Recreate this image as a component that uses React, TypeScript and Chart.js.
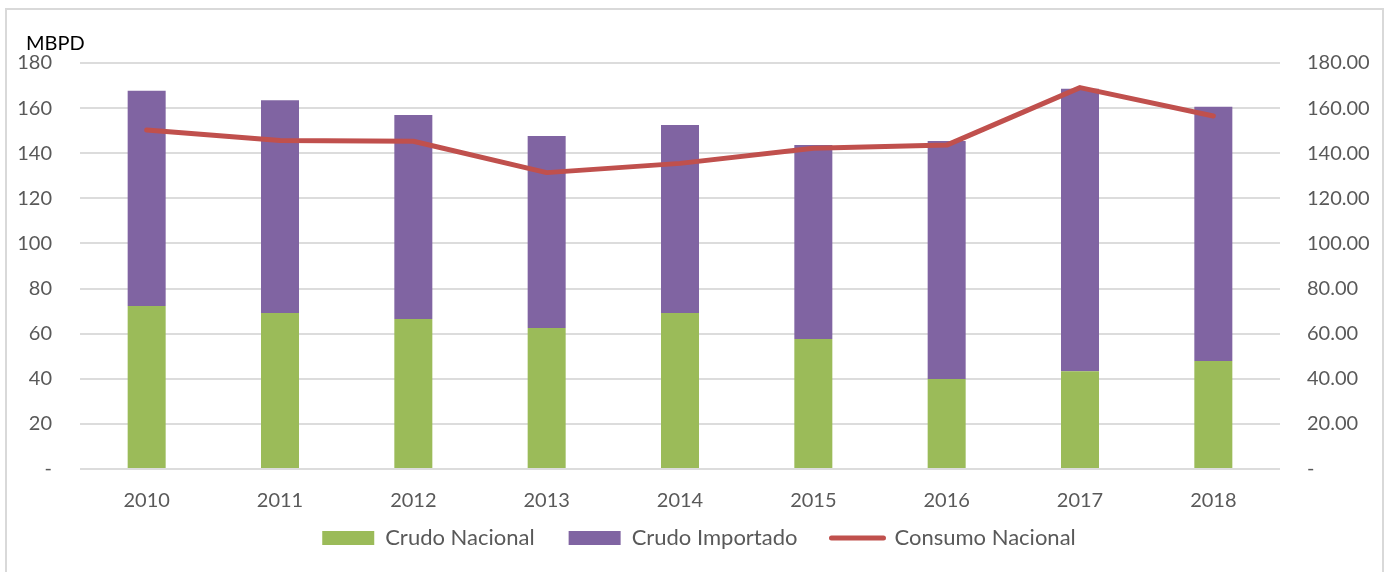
import React, { useEffect, useRef } from "react";
import { Chart, registerables } from "chart.js";

Chart.register(...registerables);

const years = ["2010", "2011", "2012", "2013", "2014", "2015", "2016", "2017", "2018"];
const crudoNacional = [72.3, 69.2, 66.5, 62.5, 69.2, 57.6, 39.9, 43.3, 47.9];
const crudoImportado = [95.4, 94.3, 90.4, 85.1, 83.3, 86.0, 105.5, 125.3, 112.7];
const consumoNacional = [150.3, 145.6, 145.3, 131.4, 135.5, 142.2, 143.6, 169.1, 156.5];
const axisMax = 180;
const axisStep = 20;
const unitLabel = "MBPD";

const GREEN = "#9BBB59";
const PURPLE = "#8064A2";
const RED = "#C0504D";
const TEXT = "#595959";
const FONT = "Lato, 'Open Sans', sans-serif";

export default function App() {
  const canvasRef = useRef<HTMLCanvasElement | null>(null);

  useEffect(() => {
    let chart: Chart | null = null;
    let cancelled = false;
    const build = () => {
      if (cancelled || !canvasRef.current) return;
      const legendPatch = {
        id: "legendPatch",
        afterInit(c: any) {
          const lg = c.legend;
          if (lg) {
            const origFit = lg.fit.bind(lg);
            lg.fit = function () {
              origFit();
              this.height = 54;
            };
            const origDraw = lg.draw.bind(lg);
            lg.draw = function () {
              const t = this.top;
              const l = this.left;
              const r = this.right;
              this.top = t - 25;
              this.left = l + 3;
              this.right = r + 3;
              origDraw();
              this.top = t;
              this.left = l;
              this.right = r;
            };
          }
        },
      };
      chart = new Chart(canvasRef.current, {
        type: "bar",
        data: {
          labels: years,
          datasets: [
            {
              type: "bar",
              label: "Crudo Nacional",
              data: crudoNacional,
              backgroundColor: GREEN,
              yAxisID: "y",
              stack: "s",
              order: 1,
              categoryPercentage: 1,
              barPercentage: 0.285,
            },
            {
              type: "bar",
              label: "Crudo Importado",
              data: crudoImportado,
              backgroundColor: PURPLE,
              yAxisID: "y",
              stack: "s",
              order: 1,
              categoryPercentage: 1,
              barPercentage: 0.285,
            },
            {
              type: "line",
              label: "Consumo Nacional",
              data: consumoNacional,
              borderColor: RED,
              backgroundColor: RED,
              borderWidth: 5,
              borderCapStyle: "round",
              borderJoinStyle: "round",
              pointRadius: 0,
              tension: 0,
              yAxisID: "y1",
              order: 0,
            },
          ] as any,
        },
        plugins: [legendPatch],
        options: {
          responsive: false,
          devicePixelRatio: 1,
          animation: false,
          layout: { padding: { top: 63, left: 0, right: 0, bottom: 0 } },
          plugins: {
            tooltip: { enabled: false },
            title: { display: false },
            legend: {
              display: true,
              position: "bottom",
              labels: {
                usePointStyle: true,
                pointStyleWidth: 52,
                boxHeight: 14,
                padding: 34,
                color: TEXT,
                font: { family: FONT, size: 22 },
                generateLabels: (c: any) =>
                  c.data.datasets.map((ds: any, i: number) => {
                    const isLine = ds.type === "line";
                    return {
                      text: ds.label,
                      fillStyle: isLine ? ds.borderColor : ds.backgroundColor,
                      strokeStyle: isLine ? ds.borderColor : ds.backgroundColor,
                      lineWidth: isLine ? 5 : 0,
                      lineCap: "round",
                      pointStyle: isLine ? "line" : "rect",
                      datasetIndex: i,
                      hidden: false,
                      fontColor: TEXT,
                    };
                  }),
              },
            },
          },
          scales: {
            x: {
              stacked: true,
              offset: true,
              grid: { display: false, drawTicks: false },
              border: { display: false },
              ticks: { color: TEXT, font: { family: FONT, size: 20 }, padding: 20 },
              afterFit: (s: any) => {
                s.height = 49;
              },
            },
            y: {
              stacked: true,
              position: "left",
              min: 0,
              max: axisMax,
              grid: { color: "#dcdcdc", lineWidth: 2, drawTicks: false },
              border: { display: false },
              ticks: {
                stepSize: axisStep,
                padding: 28,
                color: TEXT,
                font: { family: FONT, size: 20 },
                callback: (v: any) => (Number(v) === 0 ? "-" : String(v)),
              },
              afterFit: (s: any) => {
                s.width = 80;
              },
            },
            y1: {
              position: "right",
              min: 0,
              max: axisMax,
              grid: { display: false, drawTicks: false },
              border: { display: false },
              ticks: {
                stepSize: axisStep,
                padding: 27,
                color: TEXT,
                font: { family: FONT, size: 20 },
                callback: (v: any) => (Number(v) === 0 ? "-" : Number(v).toFixed(2)),
              },
              afterFit: (s: any) => {
                s.width = 112;
              },
            },
          },
        } as any,
      });
    };
    const fontsAny: any = (document as any).fonts;
    if (fontsAny && fontsAny.load) {
      fontsAny.load("20px Lato").then(build, build);
    } else {
      build();
    }
    return () => {
      cancelled = true;
      if (chart) chart.destroy();
    };
  }, []);

  return (
    <div
      style={{
        position: "fixed",
        left: 0,
        top: 0,
        width: 1392,
        height: 572,
        overflow: "hidden",
        background: "#ffffff",
      }}
    >
      <div
        style={{
          position: "absolute",
          left: 5,
          top: 8,
          width: 1379,
          height: 620,
          boxSizing: "border-box",
          border: "2px solid #d9d9d9",
        }}
      />
      <canvas
        ref={canvasRef}
        width={1392}
        height={572}
        style={{ position: "absolute", left: 0, top: 0, width: 1392, height: 572 }}
      />
      <div
        style={{
          position: "absolute",
          left: 26,
          top: 30,
          fontFamily: FONT,
          fontSize: 20,
          lineHeight: "24px",
          color: "#000000",
        }}
      >
        {unitLabel}
      </div>
    </div>
  );
}
